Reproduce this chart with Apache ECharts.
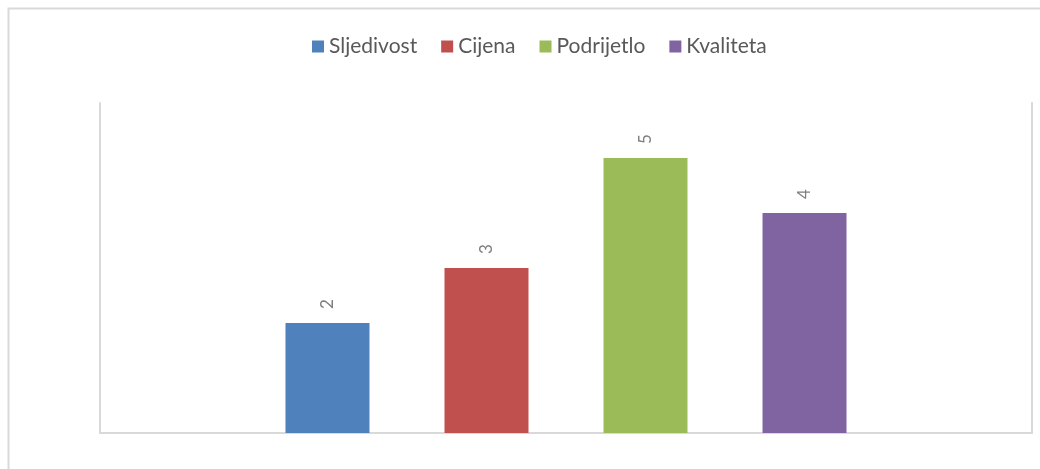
<!DOCTYPE html>
<html><head><meta charset="utf-8">
<script src="https://cdn.jsdelivr.net/npm/echarts@6/dist/echarts.min.js"></script>
<style>html,body{margin:0;padding:0;background:#fff}#c{width:1040px;height:469px}</style>
</head><body><div id="c"></div>
<script>
const categories = [''];
const seriesNames = ['Sljedivost', 'Cijena', 'Podrijetlo', 'Kvaliteta'];
const seriesValues = [[2], [3], [5], [4]];
const colors = ['#4f81bd', '#c0504d', '#9bbb59', '#8064a2'];

const chart = echarts.init(document.getElementById('c'));
chart.setOption({
  animation: false,
  color: colors,
  graphic: [{type: 'rect', shape: {x: 8.5, y: 8.5, width: 1100, height: 600}, style: {fill: 'none', stroke: '#d9d9d9', lineWidth: 2}, z: -1}],
  legend: {
    top: 31, left: 307, itemWidth: 12, itemHeight: 12, itemGap: 24, itemTextGap: 5, icon: 'rect',
    textStyle: {color: '#595959', fontSize: 21, fontFamily: 'Lato'},
    data: seriesNames
  },
  grid: {left: 100, right: 8, top: 103, bottom: 36, containLabel: false},
  xAxis: {
    type: 'category', data: categories,
    axisLine: {show: true, lineStyle: {color: '#d9d9d9', width: 2}},
    axisTick: {show: false}, axisLabel: {show: false}
  },
  yAxis: [{
    type: 'value', min: 0, max: 6, interval: 1,
    axisLine: {show: true, lineStyle: {color: '#d9d9d9', width: 2}},
    axisTick: {show: false}, axisLabel: {show: false}, splitLine: {show: false}
  }, {
    type: 'value', min: 0, max: 6, interval: 1, position: 'right',
    axisLine: {show: true, lineStyle: {color: '#d9d9d9', width: 2}},
    axisTick: {show: false}, axisLabel: {show: false}, splitLine: {show: false}
  }],
  series: seriesNames.map((n, i) => ({
    name: n, type: 'bar', data: seriesValues[i], barWidth: 84, barGap: '89.3%',
    label: {show: true, position: 'top', rotate: 90, distance: 14, align: 'left', verticalAlign: 'middle',
      color: '#7f7f7f', fontSize: 17, fontFamily: 'Lato'}
  }))
});
</script></body></html>
